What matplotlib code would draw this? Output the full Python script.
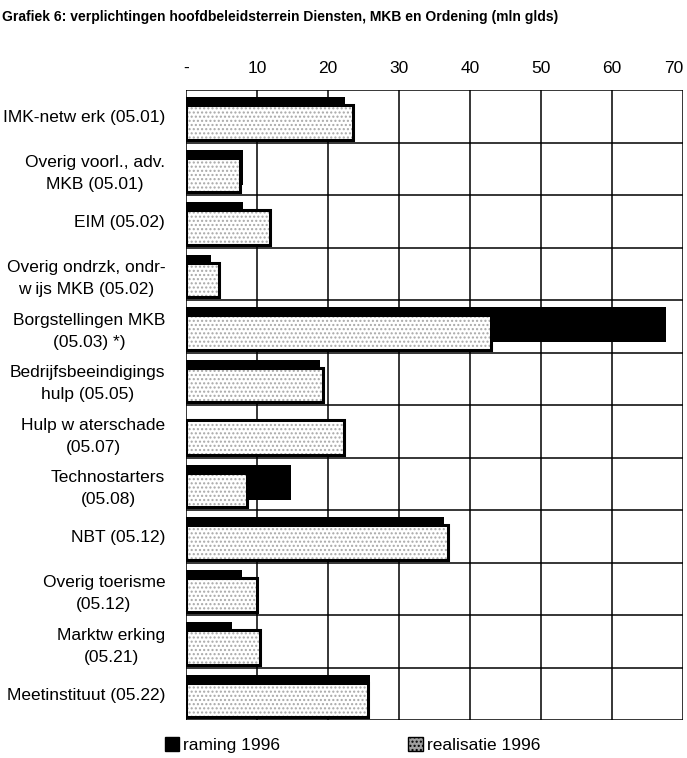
import matplotlib.pyplot as plt
from matplotlib.patches import Patch

plt.rcParams['font.family'] = ['Liberation Sans', 'DejaVu Sans']

categorieen = ["IMK-netw erk (05.01)",
               "Overig voorl., adv.\nMKB (05.01)",
               "EIM (05.02)",
               "Overig ondrzk, ondr-\nw ijs MKB (05.02)",
               "Borgstellingen MKB\n(05.03) *)",
               "Bedrijfsbeeindigings\nhulp (05.05)",
               "Hulp w aterschade\n(05.07)",
               "Technostarters\n(05.08)",
               "NBT (05.12)",
               "Overig toerisme\n(05.12)",
               "Marktw erking\n(05.21)",
               "Meetinstituut (05.22)"]

raming = [22.4, 8.0, 8.0, 3.5, 67.6, 18.9, 0.0, 14.8, 36.3, 7.9, 6.5, 25.9]
realisatie = [23.5, 7.6, 11.8, 4.6, 43.0, 19.3, 22.3, 8.6, 36.9, 10.0, 10.4, 25.6]

xticks = [0, 10, 20, 30, 40, 50, 60, 70]
xlabels = ["-", "10", "20", "30", "40", "50", "60", "70"]

fig = plt.figure(figsize=(6.87, 7.58), dpi=100)
ax = fig.add_axes([0.2707, 0.0501, 0.7234, 0.8311])

y = list(range(len(categorieen)))

# raming: zwart, iets naar boven
ax.barh([i - 0.03 for i in y], raming, height=0.67, color="black", zorder=3)
# realisatie: gestippeld wit vlak met dikke zwarte rand, iets naar beneden
ax.barh([i + 0.12 for i in y], realisatie, height=0.66, color="white",
        edgecolor="#a8a8a8", hatch="....", linewidth=0, zorder=4)
ax.barh([i + 0.12 for i in y], realisatie, height=0.66, fill=False,
        edgecolor="black", linewidth=2.2, zorder=5)

ax.set_xlim(0, 70)
ax.set_ylim(len(categorieen) - 0.5, -0.5)

# rasterlijnen
for i in range(len(categorieen) + 1):
    ax.axhline(i - 0.5, color="black", linewidth=1.1, zorder=1)
for t in xticks:
    ax.axvline(t, color="black", linewidth=1.1, zorder=1)

for s in ax.spines.values():
    s.set_visible(False)

ax.xaxis.tick_top()
ax.set_xticks(xticks)
ax.set_xticklabels(xlabels, fontsize=12.5)
ax.get_xticklabels()[-1].set_horizontalalignment("right")
ax.tick_params(axis="x", length=0, pad=10)

ax.set_yticks(y)
ax.set_yticklabels(categorieen, fontsize=12.5, multialignment="center",
                   linespacing=1.6)
ax.tick_params(axis="y", length=0, pad=15)

fig.text(0.003, 0.987, "Grafiek 6: verplichtingen hoofdbeleidsterrein Diensten, MKB en Ordening (mln glds)",
         fontsize=10, fontweight="bold", va="top", ha="left")

h1 = Patch(facecolor="black", edgecolor="black")
h2 = Patch(facecolor="#a0a0a0", edgecolor="black", hatch="....")
fig.legend([h1, h2], ["raming 1996", "realisatie 1996"], ncol=2,
           loc="lower left", bbox_to_anchor=(0.217, -0.014), frameon=False,
           fontsize=12.5, handlelength=0.85, handleheight=0.85,
           handletextpad=0.2, columnspacing=7.4)

fig.savefig("out.png", dpi=100)
